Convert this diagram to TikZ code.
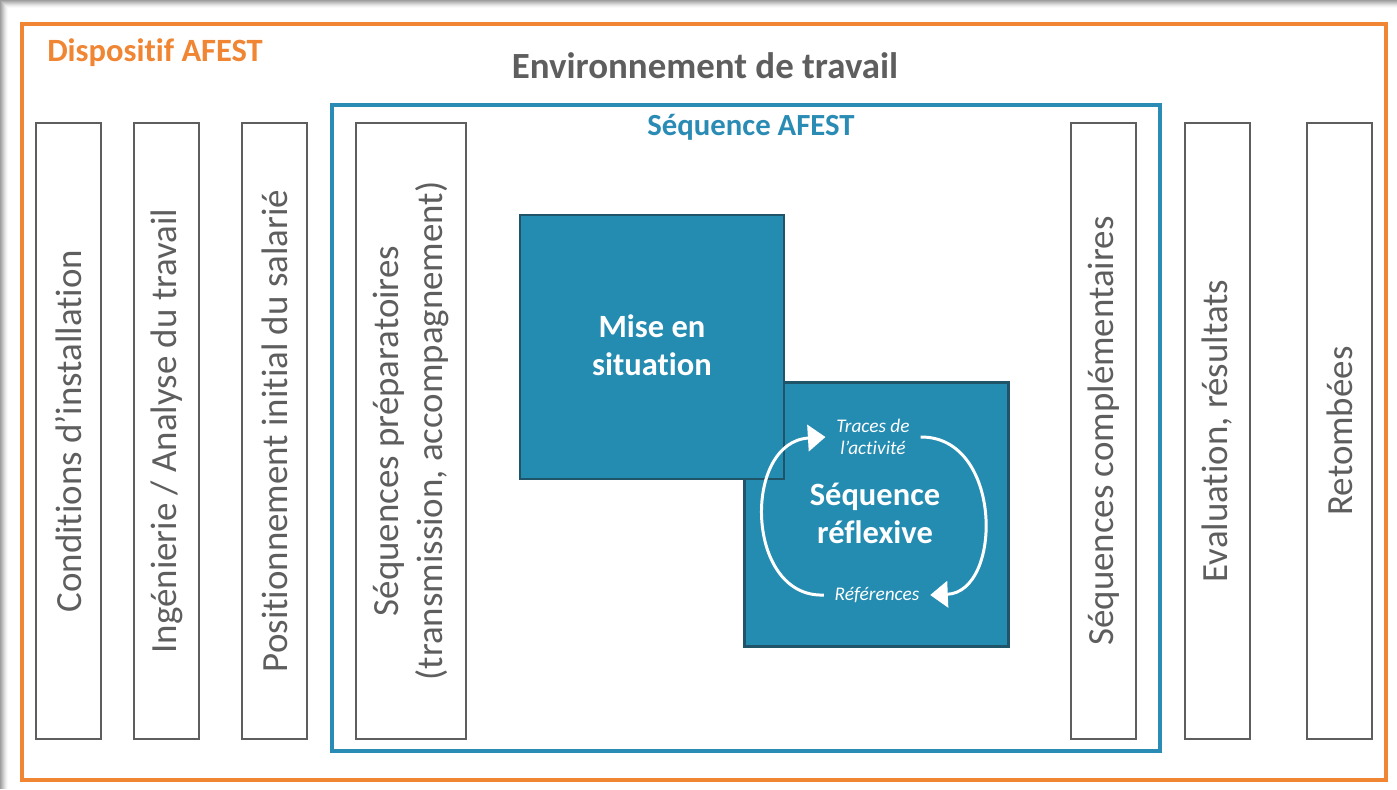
\documentclass[tikz,border=0pt]{standalone}
\usepackage{fontspec}
\setmainfont{Carlito}[Ligatures={NoCommon,NoRare}]
\usetikzlibrary{arrows.meta}
\definecolor{afestorange}{HTML}{F08533}
\definecolor{afestblue}{HTML}{2A8CB4}
\definecolor{seqfill}{HTML}{248BB1}
\definecolor{seqborder}{HTML}{1F5469}
\definecolor{boxgray}{HTML}{5E5E5E}
\tikzstyle{pillar} = [rectangle, rotate=90, minimum width=12.32cm, minimum height=1.3cm, draw=boxgray, line width=1.1pt, fill=white, text=boxgray, align=center, font=\fontsize{21}{25}\selectfont]
\tikzstyle{seqbox} = [rectangle, minimum width=5.28cm, minimum height=5.28cm, draw=seqborder, line width=1.2pt, fill=seqfill]
\tikzstyle{seqtitle} = [text=white, align=center, font=\bfseries\fontsize{18.5}{21.5}\selectfont]
\tikzstyle{smalllabel} = [text=white, align=center, inner xsep=6pt, inner ysep=1pt, font=\itshape\fontsize{11}{12.5}\selectfont]
\tikzstyle{cyclearrow} = [white, line width=1.7pt, -{Triangle[length=10pt,width=15pt]}]

\begin{document}
\begin{tikzpicture}[x=0.02cm, y=-0.02cm]
\useasboundingbox (0,0) rectangle (1397,789);

%% PAGE SHADOW
\foreach \i/\c in {0/38,1/32,2/26,3/20,4/14,5/9,6/5,7/2,8/0}
  \fill[black!\c] (\i,\i) rectangle (1397,789);

%% FRAMES
\node (dispositif) [rectangle, draw=afestorange, line width=2.3pt, minimum width=27.28cm, minimum height=15.12cm] at (704,402) {};
\node (dispotitle) [text=afestorange, font=\bfseries\fontsize{18.5}{22}\selectfont] at (155,53) {Dispositif AFEST};
\node (envtitle) [text=boxgray, font=\bfseries\fontsize{21}{25}\selectfont] at (705,66) {Environnement de travail};
\node (sequence) [rectangle, draw=afestblue, line width=2pt, minimum width=16.56cm, minimum height=12.92cm] at (746,428) {};
\node (seqtitle) [text=afestblue, font=\bfseries\fontsize{17.5}{21}\selectfont] at (751,127) {Séquence AFEST};

%% PILLARS
\node (conditions) [pillar] at (68.5,431) {Conditions d’installation};
\node (ingenierie) [pillar] at (166.5,431) {Ingénierie / Analyse du travail};
\node (position) [pillar] at (274.5,431) {Positionnement initial du salarié};
\node (prepa) [pillar, minimum height=2.2cm] at (411,431) {Séquences préparatoires\\(transmission, accompagnement)};
\node (compl) [pillar] at (1103.5,431) {Séquences complémentaires};
\node (evaluation) [pillar] at (1217.5,431) {Evaluation, résultats};
\node (retombees) [pillar] at (1339.5,431) {Retombées};

%% SEQUENCE BOXES
\node (reflexbox) [seqbox] at (876.5,514.5) {};
\node (misebox) [seqbox] at (652,347) {};
\node (mise) [seqtitle] at (652,345) {Mise en\\situation};
\node (reflex) [seqtitle] at (875,513) {Séquence\\réflexive};
\node (traces) [smalllabel] at (873,437) {Traces de\\l’activité};
\node (refs) [smalllabel] at (877,595) {Références};

%% ARROWS
\draw [cyclearrow] (refs.west) .. controls (745,598) and (742,442) .. (traces.west);
\draw [cyclearrow] (traces.east) .. controls (1003,436) and (1003,592) .. (refs.east);
\end{tikzpicture}
\end{document}
